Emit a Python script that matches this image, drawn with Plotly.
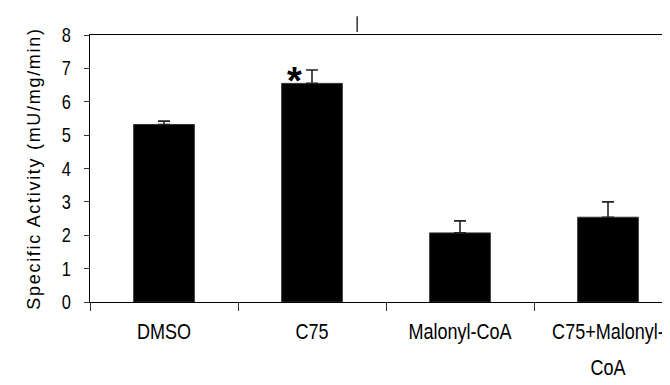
import plotly.graph_objects as go

categories = ["DMSO", "C75", "Malonyl-CoA", "C75+Malonyl-<br>CoA"]
activity = [5.32, 6.55, 2.07, 2.54]
error_up = [0.10, 0.40, 0.36, 0.46]
y_ticks = [0, 1, 2, 3, 4, 5, 6, 7, 8]

font_family = "Liberation Sans, Arial, sans-serif"

fig = go.Figure()
fig.add_trace(go.Bar(
    x=categories,
    y=activity,
    width=0.41,
    marker=dict(color="black", line=dict(color="#333333", width=1)),
    error_y=dict(type="data", array=error_up, arrayminus=[0] * len(error_up),
                 symmetric=False, color="#222222", thickness=1.6, width=6),
    showlegend=False,
))

fig.add_annotation(x=0.885, y=6.62, xref="x", yref="y", text="<b>*</b>",
                   showarrow=False, font=dict(family=font_family, size=38, color="black"))

# stray tick mark above plot
fig.add_shape(type="line", xref="paper", yref="paper",
              x0=0.4544, x1=0.4544, y0=1.011, y1=1.07,
              line=dict(color="#333333", width=1.5))

fig.update_layout(
    width=670, height=385,
    margin=dict(l=82, r=0, t=27, b=91, pad=0),
    paper_bgcolor="white", plot_bgcolor="white",
    xaxis=dict(
        type="category",
        range=[-0.5, 3.473],
        tickson="boundaries",
        ticks="outside", ticklen=8, tickcolor="#333333", tickwidth=1,
        showline=True, linecolor="black", linewidth=1, mirror=True,
        showgrid=False, zeroline=False,
        tickfont=dict(family=font_family, size=22, color="black"),
        ticklabelstandoff=10,
        automargin=False,
    ),
    yaxis=dict(
        range=[0, 8],
        tickvals=y_ticks,
        ticks="outside", ticklen=5, tickcolor="#333333", tickwidth=1,
        showline=True, linecolor="black", linewidth=1,
        showgrid=False, zeroline=False,
        tickfont=dict(family=font_family, size=20, color="black"),
        ticklabelstandoff=9,
        automargin=False,
        title=dict(text="Specific Activity (mU/mg/min)",
                   font=dict(family=font_family, size=18, color="black"),
                   standoff=14),
    ),
)

post = """
function squeeze(sel, f) {
  document.querySelectorAll(sel).forEach(function (t) {
    var x = parseFloat(t.getAttribute('x') || '0') || 0;
    var tr = t.getAttribute('transform') || '';
    tr += ' translate(' + x + ',0) scale(' + f + ',1) translate(' + (-x) + ',0)';
    t.setAttribute('transform', tr);
  });
}
squeeze('.xtick text', 0.82);
squeeze('.ytick text', 0.82);
document.querySelectorAll('.xtick text tspan.line').forEach(function (s, i) {
  if (s.getAttribute('dy') && s.getAttribute('dy') !== '0em') { s.setAttribute('dy', '1.6em'); }
});
var t = document.querySelector('.ytitle');
if (t) { t.style.letterSpacing = '1.7px'; }
"""
fig.write_html("out.html", post_script=post)
